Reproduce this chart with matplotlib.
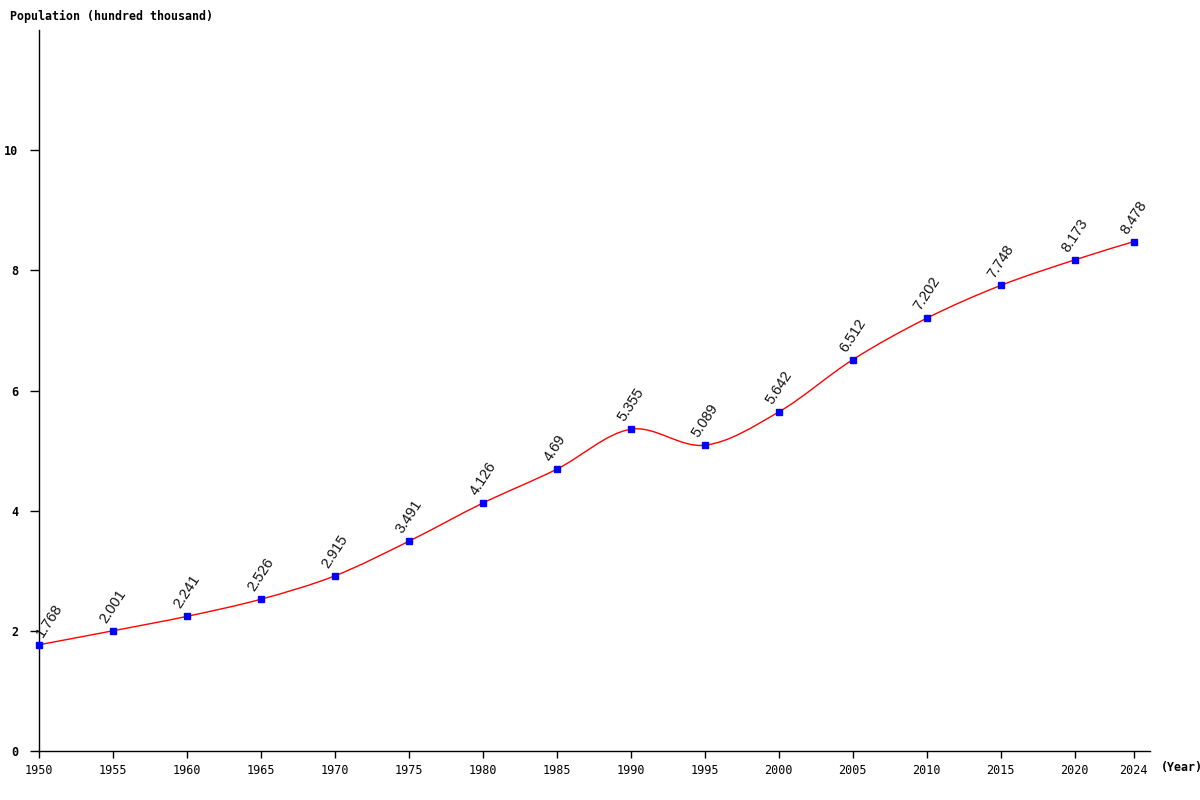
import matplotlib.pyplot as plt
from matplotlib.path import Path
from matplotlib.patches import PathPatch
import numpy as np

years = [1950, 1955, 1960, 1965, 1970, 1975, 1980, 1985, 1990, 1995,
         2000, 2005, 2010, 2015, 2020, 2024]
population = [1.768, 2.001, 2.241, 2.526, 2.915, 3.491, 4.126, 4.69, 5.355, 5.089,
              5.642, 6.512, 7.202, 7.748, 8.173, 8.478]
yticks = [0, 2, 4, 6, 8, 10]

fig = plt.figure(figsize=(12, 8), dpi=100)
ax = fig.add_axes([0.0325, 0.06125, 0.92583, 0.90125])

# smooth curve through points (catmull-rom -> bezier)
pts = np.column_stack([years, population]).astype(float)
ext = np.vstack([pts[0], pts, pts[-1]])
verts = [tuple(pts[0])]
codes = [Path.MOVETO]
for i in range(len(pts) - 1):
    p0, p1, p2, p3 = ext[i], ext[i + 1], ext[i + 2], ext[i + 3]
    c1 = p1 + (p2 - p0) / 6
    c2 = p2 - (p3 - p1) / 6
    verts += [tuple(c1), tuple(c2), tuple(p2)]
    codes += [Path.CURVE4] * 3
ax.add_patch(PathPatch(Path(verts, codes), fill=False, edgecolor='red', lw=1))

ax.plot(years, population, ls='none', marker='s', ms=4, color='blue', zorder=3, clip_on=False)

for i, (x, y) in enumerate(zip(years, population)):
    dx = 3 if i == 0 else -4.5
    ax.annotate(str(y), (x, y), xytext=(dx, 5), textcoords='offset points',
                rotation=57, rotation_mode='anchor', ha='left', va='baseline',
                fontsize=10.5, color='#111111', family='Liberation Sans')

ax.set_xlim(1950, 2025.1)
ax.set_ylim(0, 12)
ax.set_xticks(years)
ax.set_xticklabels([str(y) for y in years], family='DejaVu Sans Mono', fontsize=8.5)
ax.set_yticks(yticks)
ax.set_yticklabels([str(v) for v in yticks], family='DejaVu Sans Mono', fontsize=8.5,
                   fontweight='bold')
ax.tick_params(axis='y', length=6.5, width=1, pad=8.5)
ax.tick_params(axis='x', length=5, width=1, pad=4)
for s in ['top', 'right']:
    ax.spines[s].set_visible(False)
for s in ['left', 'bottom']:
    ax.spines[s].set_linewidth(1)

fig.text(0.008, 0.979, 'Population (hundred thousand)', family='DejaVu Sans Mono',
         fontweight='bold', fontsize=8.4, ha='left', va='center')
fig.text(0.967, 0.041, '(Year)', family='DejaVu Sans Mono', fontweight='bold',
         fontsize=8.4, ha='left', va='center')

fig.savefig('out.png', dpi=100)
